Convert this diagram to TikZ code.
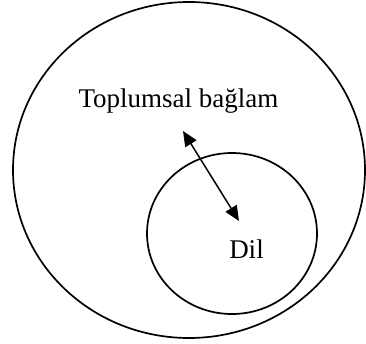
\documentclass[tikz,border=0pt]{standalone}
\usepackage{fontspec}
\setmainfont{Liberation Serif}
\usetikzlibrary{arrows.meta}

\tikzset{
    ring/.style={draw=black, line width=1.7pt},
    label text/.style={font=\fontsize{27}{31}\selectfont, inner sep=0pt},
    link/.style={line width=1.5pt, {Triangle[length=15pt,width=13pt]}-{Triangle[length=15pt,width=13pt]}}
}

\begin{document}
\begin{tikzpicture}[x=1pt, y=-1pt]
    \useasboundingbox (0,0) rectangle (366,343);

    % Outer context
    \draw[ring] (189, 170) ellipse (176 and 168);
    \node[label text] (context) at (178.5, 101) {Toplumsal bağlam};

    % Inner language circle
    \draw[ring] (232, 233.5) ellipse (85 and 80.5);
    \node[label text] (language) at (246.5, 249) {Dil};

    % Two-way relation
    \coordinate (context tip) at (183, 131);
    \coordinate (language tip) at (239, 221);
    \draw[link] (context tip) -- (language tip);

\end{tikzpicture}
\end{document}
